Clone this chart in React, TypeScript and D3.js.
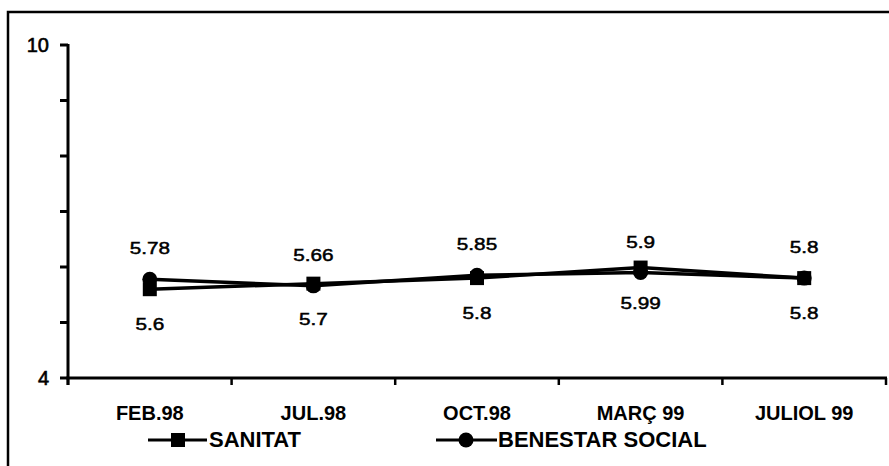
import React from "react";
import * as d3 from "d3";

const categories = ["FEB.98", "JUL.98", "OCT.98", "MARÇ 99", "JULIOL 99"];
const sanitat = [5.6, 5.7, 5.8, 5.99, 5.8];
const benestar = [5.78, 5.66, 5.85, 5.9, 5.8];
const seriesNames = ["SANITAT", "BENESTAR SOCIAL"];
const yTickValues = [4, 5, 6, 7, 8, 9, 10];
const yLabelValues = [4, 10];

const W = 889;
const H = 466;
const FONT = "'Liberation Sans', Arial, Helvetica, sans-serif";

export default function App() {
  const x = d3.scaleBand<string>().domain(categories).range([68, 886]).padding(0);
  const y = d3.scaleLinear().domain([4, 10]).range([378, 45]);
  const cx = (c: string) => (x(c) as number) + x.bandwidth() / 2;

  const line = d3
    .line<number>()
    .x((_, i) => cx(categories[i]))
    .y((d) => y(d));

  const boundaries = categories.map((c) => x(c) as number).concat([886]);

  return (
    <svg
      width={W}
      height={H}
      style={{ position: "absolute", left: 0, top: 0, background: "#fff" }}
    >
      <rect x={0} y={0} width={W} height={H} fill="#fff" />
      {/* outer frame */}
      <rect x={8} y={12} width={900} height={480} fill="none" stroke="#000" strokeWidth={2.5} />

      {/* y axis */}
      <line x1={68} x2={68} y1={y(10) - 1} y2={385} stroke="#000" strokeWidth={3} />
      {yTickValues.map((t) => (
        <line key={t} x1={60} x2={68} y1={y(t)} y2={y(t)} stroke="#000" strokeWidth={3} />
      ))}
      {yLabelValues.map((t) => (
        <text
          key={t}
          x={49}
          y={y(t)}
          dy="0.36em"
          textAnchor="end"
          fontFamily={FONT}
          fontSize={20}
          stroke="#000"
          strokeWidth={0.6}
        >
          {t}
        </text>
      ))}

      {/* x axis */}
      <line x1={66.5} x2={887} y1={378} y2={378} stroke="#000" strokeWidth={3} />
      {boundaries.map((b, i) => (
        <line key={i} x1={b} x2={b} y1={378} y2={385} stroke="#000" strokeWidth={2.5} />
      ))}
      {categories.map((c) => (
        <text
          key={c}
          x={cx(c)}
          y={420}
          textAnchor="middle"
          fontFamily={FONT}
          fontSize={20}
          fontWeight="bold"
        >
          {c}
        </text>
      ))}

      {/* lines */}
      <path d={line(sanitat) as string} fill="none" stroke="#000" strokeWidth={3.5} />
      <path d={line(benestar) as string} fill="none" stroke="#000" strokeWidth={3.5} />

      {/* markers */}
      {sanitat.map((v, i) => (
        <rect
          key={"s" + i}
          x={cx(categories[i]) - 7}
          y={y(v) - 7}
          width={14}
          height={14}
          fill="#000"
        />
      ))}
      {benestar.map((v, i) => (
        <circle key={"b" + i} cx={cx(categories[i])} cy={y(v)} r={7.5} fill="#000" />
      ))}

      {/* value labels */}
      {benestar.map((v, i) => (
        <text
          key={"lb" + i}
          transform={`translate(${cx(categories[i])},${y(v) - 31}) scale(1.22,1)`}
          dy="0.36em"
          textAnchor="middle"
          fontFamily={FONT}
          fontSize={17}
          stroke="#000"
          strokeWidth={0.5}
        >
          {String(v)}
        </text>
      ))}
      {sanitat.map((v, i) => (
        <text
          key={"ls" + i}
          transform={`translate(${cx(categories[i])},${y(v) + 35}) scale(1.22,1)`}
          dy="0.36em"
          textAnchor="middle"
          fontFamily={FONT}
          fontSize={17}
          stroke="#000"
          strokeWidth={0.5}
        >
          {String(v)}
        </text>
      ))}

      {/* legend */}
      <line x1={148} x2={207} y1={440} y2={440} stroke="#000" strokeWidth={3} />
      <rect x={171} y={433} width={14} height={14} fill="#000" />
      <text x={209} y={447} fontFamily={FONT} fontSize={22} fontWeight="bold">
        {seriesNames[0]}
      </text>
      <line x1={436} x2={497} y1={440} y2={440} stroke="#000" strokeWidth={3} />
      <circle cx={466} cy={440} r={7.5} fill="#000" />
      <text x={498} y={447} fontFamily={FONT} fontSize={22} fontWeight="bold">
        {seriesNames[1]}
      </text>
    </svg>
  );
}
